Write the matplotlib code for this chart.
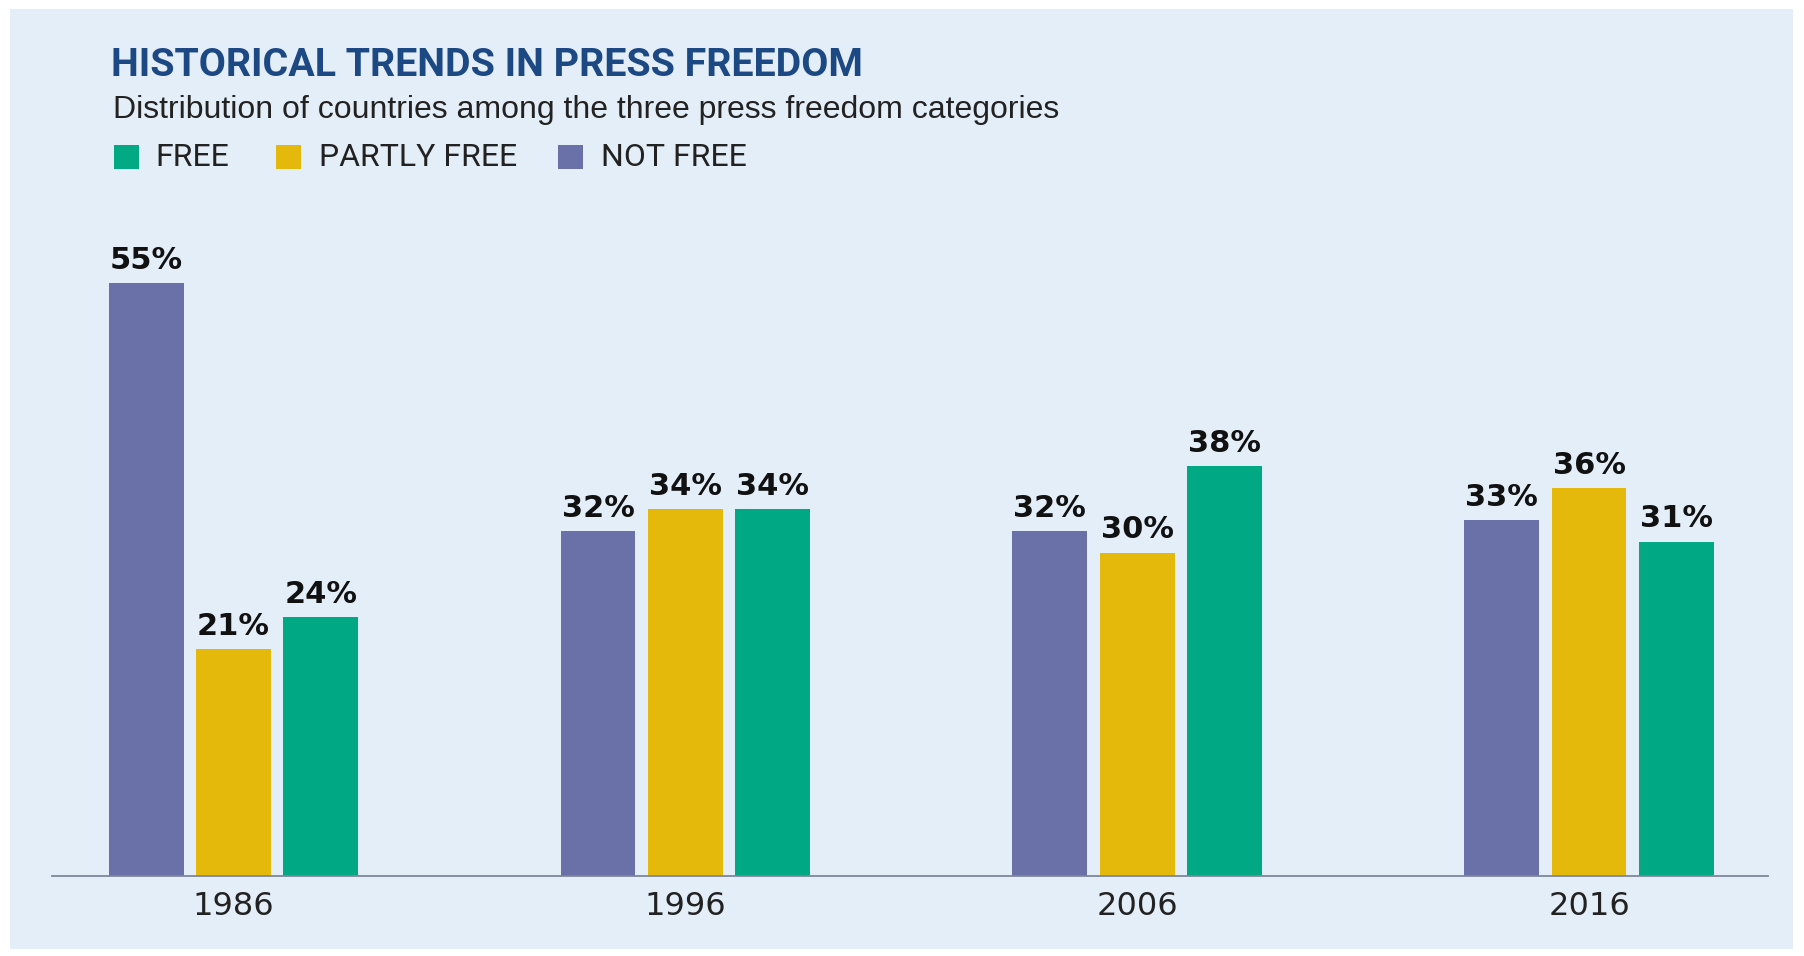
import matplotlib
matplotlib.use('Agg')
import matplotlib.pyplot as plt
from matplotlib.patches import Rectangle
import numpy as np


# Andel land i hver kategori (prosent)
years = ['1986', '1996', '2006', '2016']
not_free = [55, 32, 32, 33]
partly_free = [21, 34, 30, 36]
free = [24, 34, 38, 31]

legend_labels = ['FREE', 'PARTLY FREE', 'NOT FREE']

PURPLE = '#6a70a8'
YELLOW = '#e5b90b'
GREEN = '#00a983'
BG = '#e4eef8'
NAVY = '#1c4884'

W, H = 1804, 956
fig = plt.figure(figsize=(W / 100, H / 100), dpi=100, facecolor='white')

# lyseblaa bakgrunnsflate
fig.patches.append(Rectangle((10 / W, 7 / H), 1783 / W, 940 / H,
                             transform=fig.transFigure, facecolor=BG,
                             edgecolor='none', zorder=-10))

ax = fig.add_axes([52 / W, 80.5 / H, 1716 / W, 646 / H])
ax.set_facecolor('none')

x = np.arange(len(years))
step = 0.1934
width = 0.1656

b1 = ax.bar(x - step, not_free, width, color=PURPLE)
b2 = ax.bar(x, partly_free, width, color=YELLOW)
b3 = ax.bar(x + step, free, width, color=GREEN)

for bars, vals in [(b1, not_free), (b2, partly_free), (b3, free)]:
    ax.bar_label(bars, labels=[f'{v}%' for v in vals], padding=6,
                 fontsize=22, fontweight='bold', color='#111111')

ax.set_xlim(-0.4017, 3.396)
ax.set_ylim(0, 60)
ax.set_xticks(x)
ax.set_xticklabels(years)
ax.tick_params(axis='x', length=0, pad=11, labelsize=23, labelcolor='#222222')
ax.set_yticks([])
for s in ['top', 'right', 'left']:
    ax.spines[s].set_visible(False)
ax.spines['bottom'].set_color('#7d8797')
ax.spines['bottom'].set_linewidth(1.3)

# tittel og undertittel
fig.text(111 / W, 1 - 66 / H, 'HISTORICAL TRENDS IN PRESS FREEDOM',
         family=['Roboto', 'DejaVu Sans'], weight='bold',
         fontsize=28.4, color=NAVY, va='center')
fig.text(113 / W, 1 - 110 / H,
         'Distribution of countries among the three press freedom categories',
         family=['Liberation Sans', 'DejaVu Sans'], fontsize=23,
         color='#222222', va='center')

# egen forklaring
leg_colors = [GREEN, YELLOW, PURPLE]
box_x = [114, 276, 558]
text_x = [155, 319, 601]
for lab, c, bx, tx in zip(legend_labels, leg_colors, box_x, text_x):
    fig.patches.append(Rectangle((bx / W, 1 - 169 / H), 25 / W, 24 / H,
                                 transform=fig.transFigure, facecolor=c,
                                 edgecolor='none'))
    fig.text(tx / W, 1 - 158 / H, lab,
             family=['Roboto', 'DejaVu Sans'],
             fontsize=23, color='#222222', va='center')

fig.savefig('out.png', dpi=100, facecolor='white')
